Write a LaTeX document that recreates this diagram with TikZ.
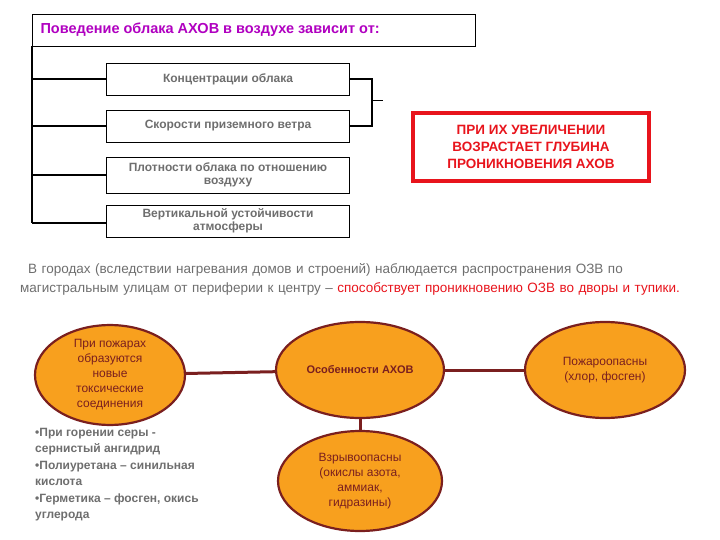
\documentclass[tikz,border=0pt]{standalone}
\usepackage{fontspec}
\setmainfont{Liberation Sans}
\usetikzlibrary{shapes.geometric}
\definecolor{txtgray}{HTML}{6E6E6E}
\definecolor{ored}{HTML}{E8141C}
\definecolor{orfill}{HTML}{F8A01E}
\definecolor{brown}{HTML}{7A1F1F}
\definecolor{purp}{HTML}{B000C0}
\begin{document}
\begin{tikzpicture}[x=1pt,y=-1pt,
  factor/.style={draw,line width=0.8pt,minimum width=243pt,minimum height=32pt,align=center,font=\bfseries\fontsize{12}{13.5}\selectfont,text=txtgray,inner sep=1pt},
  conn/.style={line width=1.6pt},
  oval/.style={ellipse,draw=brown,line width=2.2pt,fill=orfill,align=center,text=brown,font=\fontsize{12}{15}\selectfont},
  olink/.style={brown,line width=3pt}]
\useasboundingbox (0,0) rectangle (720,540);
\node[draw,line width=0.8pt,minimum width=443pt,minimum height=32pt,anchor=north west,inner sep=0pt] (title) at (32,14) {};
\node[anchor=west,text=purp,font=\bfseries\fontsize{14.5}{16}\selectfont] (tt) at (37,30) {Поведение облака АХОВ в воздухе зависит от:};
\node[factor] (f1) at (228,79) {Концентрации облака};
\node[factor] (f2) at (228,126) {Скорости приземного ветра};
\node[factor,minimum height=36pt] (f3) at (228,175) {Плотности облака по отношению\\воздуху};
\node[factor] (f4) at (228,221) {Вертикальной устойчивости\\атмосферы};
\coordinate (top) at (32,46);
\coordinate (bot) at (32,223);
\draw[conn] (top) -- (bot);
\draw[conn] (32,79) -- (f1.west);
\draw[conn] (32,126) -- (f2.west);
\draw[conn] (32,175) -- (f3.west);
\draw[conn] (bot) -- (f4.west |- bot);
\draw[conn] (f1.east) -- (372,79) -- (372,126) -- (f2.east);
\draw[line width=0.6pt] (372,100) -- (383,100);
\node[draw=ored,line width=4pt,minimum width=236pt,minimum height=68pt,align=center,text=ored,font=\bfseries\fontsize{13.5}{17}\selectfont] (red) at (531,147) {ПРИ ИХ УВЕЛИЧЕНИИ\\ВОЗРАСТАЕТ ГЛУБИНА\\ПРОНИКНОВЕНИЯ АХОВ};
\node[anchor=north west,text width=690pt,align=left,text=txtgray,font=\fontsize{13.5}{19.5}\selectfont,inner sep=0pt] (para) at (20,263) {\hspace*{8pt}В городах (вследствии нагревания домов и строений) наблюдается распространения ОЗВ по магистральным улицам от периферии к центру -- \textcolor{ored}{способствует проникновению ОЗВ во дворы и тупики.}};
\node[oval,minimum width=150pt,minimum height=94pt,inner sep=0pt] (e1) at (110,375) {При пожарах\\образуются\\новые\\токсические\\соединения};
\node[oval,minimum width=168pt,minimum height=96pt,font=\bfseries\fontsize{11}{13}\selectfont] (e2) at (360,370) {Особенности АХОВ};
\node[oval,minimum width=160pt,minimum height=96pt] (e3) at (605,370) {Пожароопасны\\(хлор, фосген)};
\node[oval,minimum width=164pt,minimum height=100pt,inner sep=0pt] (e4) at (360,481) {Взрывоопасны\\(окислы азота,\\аммиак,\\гидразины)};
\draw[olink] (e1) -- (e2);
\draw[olink] (e2) -- (e3);
\draw[olink] (e2) -- (e4);
\node[anchor=north west,align=left,text=txtgray,font=\bfseries\fontsize{12}{16.5}\selectfont,inner sep=0pt] (list) at (35,428) {•При горении серы -\\сернистый ангидрид\\•Полиуретана -- синильная\\кислота\\•Герметика -- фосген, окись\\углерода};
\end{tikzpicture}
\end{document}
